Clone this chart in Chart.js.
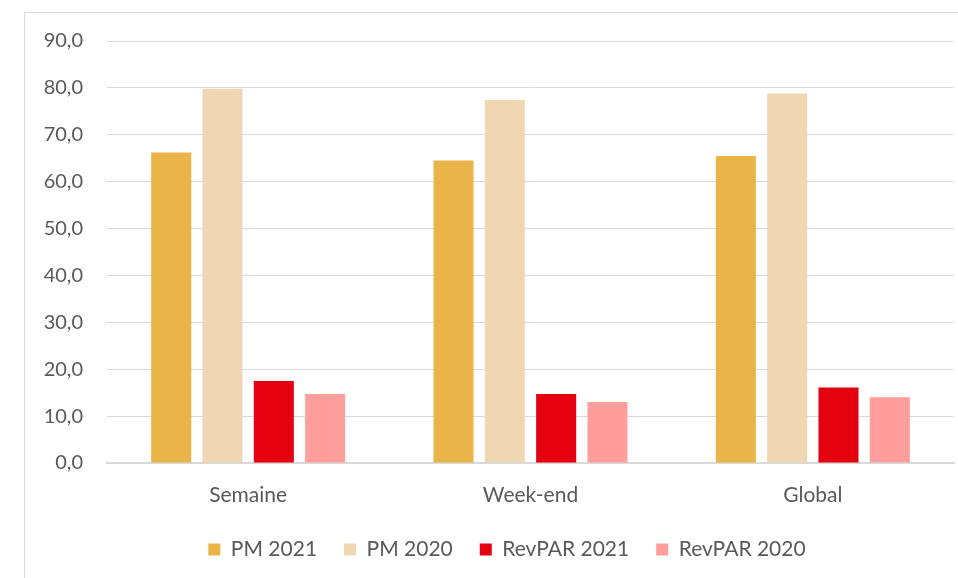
<!DOCTYPE html>
<html>
<head>
<meta charset="utf-8">
<script src="https://cdn.jsdelivr.net/npm/chart.js@4/dist/chart.umd.min.js"></script>
<style>
  html, body { margin: 0; padding: 0; background: #ffffff; }
  #wrap { width: 958px; height: 578px; position: relative; }
</style>
</head>
<body>
<div id="wrap"><canvas id="c" width="958" height="578"></canvas></div>
<script>
const categories = ['Semaine', 'Week-end', 'Global'];
const seriesNames = ['PM 2021', 'PM 2020', 'RevPAR 2021', 'RevPAR 2020'];
const pm2021 = [66.2, 64.5, 65.5];
const pm2020 = [79.8, 77.4, 78.8];
const revpar2021 = [17.5, 14.7, 16.1];
const revpar2020 = [14.7, 13.0, 14.0];
const yMin = 0, yMax = 90, yStep = 10;

const colors = ['#EAB448', '#F1D6B4', '#E3000F', '#FF9E9B'];
const values = [pm2021, pm2020, revpar2021, revpar2020];
const textColor = '#595959';
const fontFamily = 'Lato, "Open Sans", sans-serif';

const framePlugin = {
  id: 'frame',
  afterLayout(chart) {
    if (chart.legend) { chart.legend.left += 60; }
  },
  beforeDraw(chart) {
    const ctx = chart.ctx;
    ctx.save();
    ctx.fillStyle = '#ffffff';
    ctx.fillRect(0, 0, chart.width, chart.height);
    ctx.strokeStyle = '#d9d9d9';
    ctx.lineWidth = 1;
    ctx.beginPath();
    ctx.moveTo(24.5, chart.height + 5);
    ctx.lineTo(24.5, 12.5);
    ctx.lineTo(chart.width + 5, 12.5);
    ctx.stroke();
    ctx.restore();
  }
};

new Chart(document.getElementById('c'), {
  type: 'bar',
  data: {
    labels: categories,
    datasets: seriesNames.map((name, i) => ({
      label: name,
      data: values[i],
      backgroundColor: colors[i],
      borderWidth: 0,
      categoryPercentage: 0.727,
      barPercentage: 0.78
    }))
  },
  options: {
    responsive: false,
    animation: false,
    devicePixelRatio: 1,
    layout: { padding: { top: 41, right: 4, left: 0, bottom: 8 } },
    plugins: {
      legend: {
        position: 'bottom',
        labels: {
          color: textColor,
          font: { family: fontFamily, size: 21 },
          boxWidth: 12,
          boxHeight: 12,
          padding: 27
        }
      },
      tooltip: { enabled: false }
    },
    scales: {
      x: {
        grid: { display: false, drawTicks: false },
        border: { display: true, color: '#d9d9d9', width: 2 },
        ticks: {
          color: textColor,
          font: { family: fontFamily, size: 21 },
          padding: 20
        },
        afterFit(scale) { scale.height = 49; }
      },
      y: {
        min: yMin,
        max: yMax,
        grid: { color: '#d9d9d9', lineWidth: 1, drawTicks: false },
        border: { display: false },
        ticks: {
          stepSize: yStep,
          color: textColor,
          font: { family: fontFamily, size: 20 },
          padding: 24,
          callback: (v) => Number(v).toFixed(1).replace('.', ',')
        },
        afterFit(scale) { scale.width = 107; }
      }
    }
  },
  plugins: [framePlugin]
});
</script>
</body>
</html>
